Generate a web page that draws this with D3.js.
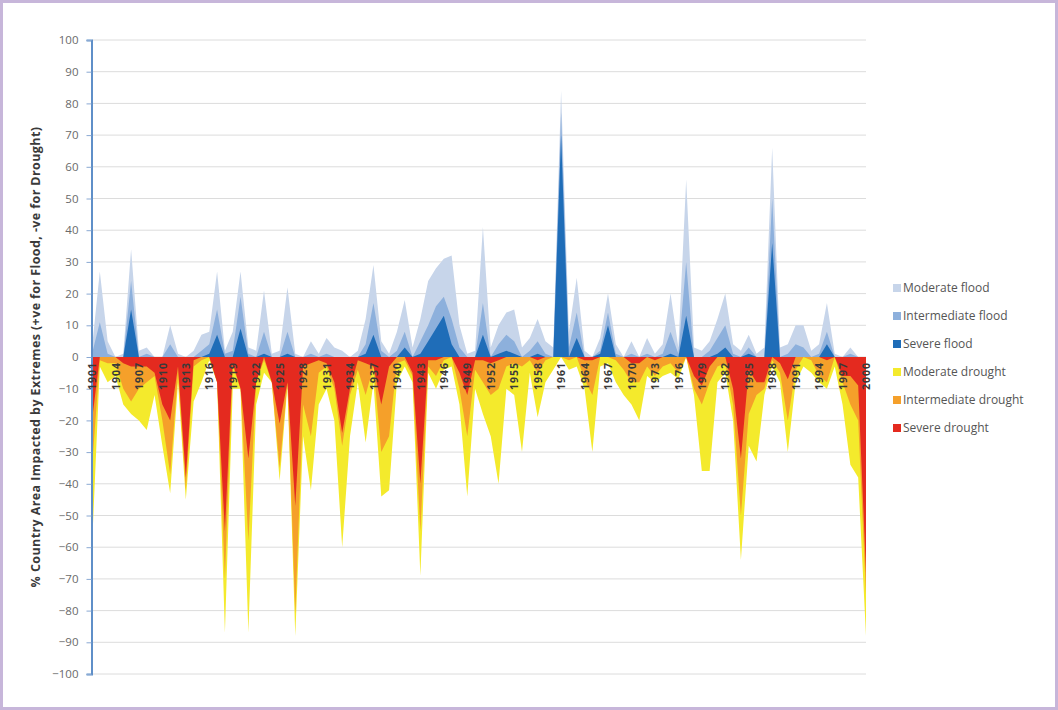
<!DOCTYPE html>
<html>
<head>
<meta charset="utf-8">
<script src="https://cdn.jsdelivr.net/npm/d3@7"></script>
<style>
  html, body { margin: 0; padding: 0; background: #ffffff; }
  svg { display: block; }
</style>
</head>
<body>
<svg id="chart" width="1058" height="710"></svg>
<script>
// ---------- DATA ----------
const years = d3.range(1901, 2001);
const xTickYears = d3.range(1901, 2001, 3);
const yTicks = d3.range(-100, 101, 10);

const seriesNames = ["Moderate flood", "Intermediate flood", "Severe flood",
                     "Moderate drought", "Intermediate drought", "Severe drought"];
const seriesColors = ["#c7d5ea", "#8db0dc", "#1f6db8", "#f4ea2c", "#f5a02a", "#e42a1f"];

const moderateFlood = [
  3,27,5,0,1,34,2,3,0,0, 10,1,0,2,7,8,27,2,8,27, 3,2,21,1,2,22,1,0,5,1,
  6,3,2,0,2,12,29,5,1,8, 18,3,12,24,28,31,32,10,1,2, 41,3,10,14,15,3,6,12,5,3,
  84,8,25,2,0,6,20,4,0,5, 0,6,1,4,20,3,56,3,2,5, 12,20,4,2,7,1,3,66,3,4,
  10,10,2,4,17,1,0,3,0,0
];
const intermediateFlood = [
  1,11,1,0,0,24,0,1,0,0, 4,0,0,0,2,4,15,1,2,19, 1,0,8,0,0,8,0,0,1,0,
  1,0,0,0,0,4,17,2,0,2, 8,0,5,10,16,19,12,3,0,0, 17,0,4,7,5,0,2,5,1,0,
  77,3,14,0,0,2,14,1,0,1, 0,1,0,1,8,1,30,0,0,2, 6,10,1,0,3,0,0,50,0,1,
  4,3,0,1,8,0,0,1,0,0
];
const severeFlood = [
  0,0,0,0,0,15,0,0,0,0, 0,0,0,0,0,1,7,0,0,9, 0,0,1,0,0,1,0,0,0,0,
  0,0,0,0,0,1,7,0,0,0, 3,0,1,5,9,13,4,0,0,0, 7,0,1,2,1,0,0,1,0,0,
  70,0,6,0,0,1,10,0,0,0, 0,0,0,0,1,0,13,0,0,0, 1,3,0,0,1,0,0,36,0,0,
  0,0,0,0,4,0,0,0,0,0
];
const moderateDrought = [
  -60,-3,-8,-6,-15,-18,-20,-23,-12,-28, -43,-8,-45,-14,-8,-1,-8,-87,-10,-10,
  -87,-15,-5,-8,-39,-9,-88,-25,-42,-15, -10,-20,-60,-25,-8,-27,-8,-44,-42,-8,
  -3,-8,-69,-5,-10,-4,-3,-15,-44,-10, -18,-25,-40,-10,-12,-30,-5,-19,-8,-4,
  0,-4,-3,-10,-30,-3,-2,-8,-12,-15, -20,-6,-8,-6,-5,-7,0,-12,-36,-36,
  -8,-5,-20,-64,-28,-33,-12,-3,-8,-30, -8,-3,-5,-8,-10,-3,-15,-34,-38,-88
];
const intermediateDrought = [
  -35,-1,-2,-2,-10,-14,-10,-8,-6,-20, -37,-5,-42,-3,-1,0,-8,-70,-3,-10,
  -58,-8,-1,-8,-35,-8,-81,-15,-25,-5, -3,-10,-28,-12,-4,-12,-3,-30,-25,-2,
  -1,-6,-55,-3,-6,-1,0,-10,-25,-4, -8,-12,-10,-3,-2,-3,-1,-5,-1,0,
  0,-1,0,-7,-12,0,0,-1,-4,-8, -8,-3,-6,-3,-2,-5,0,-10,-15,-8,
  -3,-2,-15,-50,-18,-12,-10,-1,-5,-20, -4,0,-1,-6,-8,0,-8,-15,-20,-75
];
const severeDrought = [
  -20,0,0,0,-2,-3,-3,-3,-5,-15, -20,-3,-38,-1,0,0,-8,-55,-2,-10,
  -32,-8,0,-8,-21,-8,-47,-3,-2,-1, -2,-8,-24,-10,-1,-2,-3,-15,-3,0,
  0,-5,-40,-1,-1,0,0,-5,-12,-1, -1,-2,-1,0,0,0,0,-1,0,0,
  0,0,0,-1,-1,0,0,0,0,-2, -2,0,-1,0,0,0,0,-6,-9,-3,
  0,0,-10,-32,-4,-8,-8,0,-2,-7, 0,0,0,0,-1,0,-6,-6,-9,-68
];

// ---------- LAYOUT ----------
const W = 1058, H = 710;
const svg = d3.select("#chart");
const font = "'Open Sans', 'Liberation Sans', sans-serif";

svg.append("rect").attr("x", 0).attr("y", 0).attr("width", W).attr("height", H).attr("fill", "#ffffff");
svg.append("rect").attr("x", 1.5).attr("y", 1.5).attr("width", W - 3).attr("height", H - 3)
   .attr("fill", "none").attr("stroke", "#c7b6da").attr("stroke-width", 3);

const x = d3.scaleLinear().domain([1901, 2000]).range([92, 866]);
const y = d3.scaleLinear().domain([-100, 100]).range([674, 40]);

// gridlines
svg.append("g").selectAll("line").data(yTicks).join("line")
  .attr("x1", 92).attr("x2", 866)
  .attr("y1", d => y(d)).attr("y2", d => y(d))
  .attr("stroke", "#dcdcdc").attr("stroke-width", 1);

// areas
const seriesData = [moderateFlood, intermediateFlood, severeFlood,
                    moderateDrought, intermediateDrought, severeDrought];
const area = vals => d3.area()
  .x((d, i) => x(years[i]))
  .y0(y(0))
  .y1(d => y(d))(vals);

const gAreas = svg.append("g");
seriesData.forEach((vals, k) => {
  gAreas.append("path").attr("d", area(vals)).attr("fill", seriesColors[k]);
});

// y axis
const yAxis = d3.axisLeft(y).tickValues(yTicks).tickSize(5).tickPadding(8);
const gy = svg.append("g").attr("transform", "translate(91.5,0)").call(yAxis);
gy.select(".domain").attr("stroke", "#5f8fc8").attr("stroke-width", 2);
gy.selectAll(".tick line").attr("stroke", "#8aa9d3");
gy.selectAll(".tick text").attr("fill", "#6a6a6a").attr("font-family", font)
  .attr("font-size", 11.5);

// x tick labels (rotated)
const xAxis = d3.axisBottom(x).tickValues(xTickYears).tickFormat(d3.format("d")).tickSize(0);
const gx = svg.append("g").attr("transform", `translate(0,${y(0)})`).call(xAxis);
gx.select(".domain").remove();
gx.selectAll(".tick text")
  .attr("transform", "rotate(-90)")
  .attr("text-anchor", "end")
  .attr("x", -5).attr("y", 0).attr("dy", "0.35em")
  .attr("fill", "#3a3a3a").attr("font-family", font)
  .attr("font-weight", "bold").attr("font-size", 10.5)
  .style("letter-spacing", "1px");

// y title
svg.append("text")
  .attr("transform", `translate(36,${y(0)}) rotate(-90)`)
  .attr("text-anchor", "middle").attr("dy", "0.35em")
  .attr("font-family", font).attr("font-weight", "bold").attr("font-size", 12.5)
  .style("letter-spacing", "0.4px")
  .attr("fill", "#3a3a3a")
  .text("% Country Area Impacted by Extremes (+ve for Flood, -ve for Drought)");

// legend
const legend = svg.append("g").attr("transform", "translate(893,288)");
seriesNames.forEach((name, k) => {
  const g = legend.append("g").attr("transform", `translate(0,${k * 28})`);
  g.append("rect").attr("x", 0).attr("y", -4).attr("width", 8).attr("height", 8)
    .attr("fill", seriesColors[k]);
  g.append("text").attr("x", 10).attr("y", 0).attr("dy", "0.35em")
    .attr("font-family", font).attr("font-size", 12).attr("fill", "#555")
    .text(name);
});
</script>
</body>
</html>
